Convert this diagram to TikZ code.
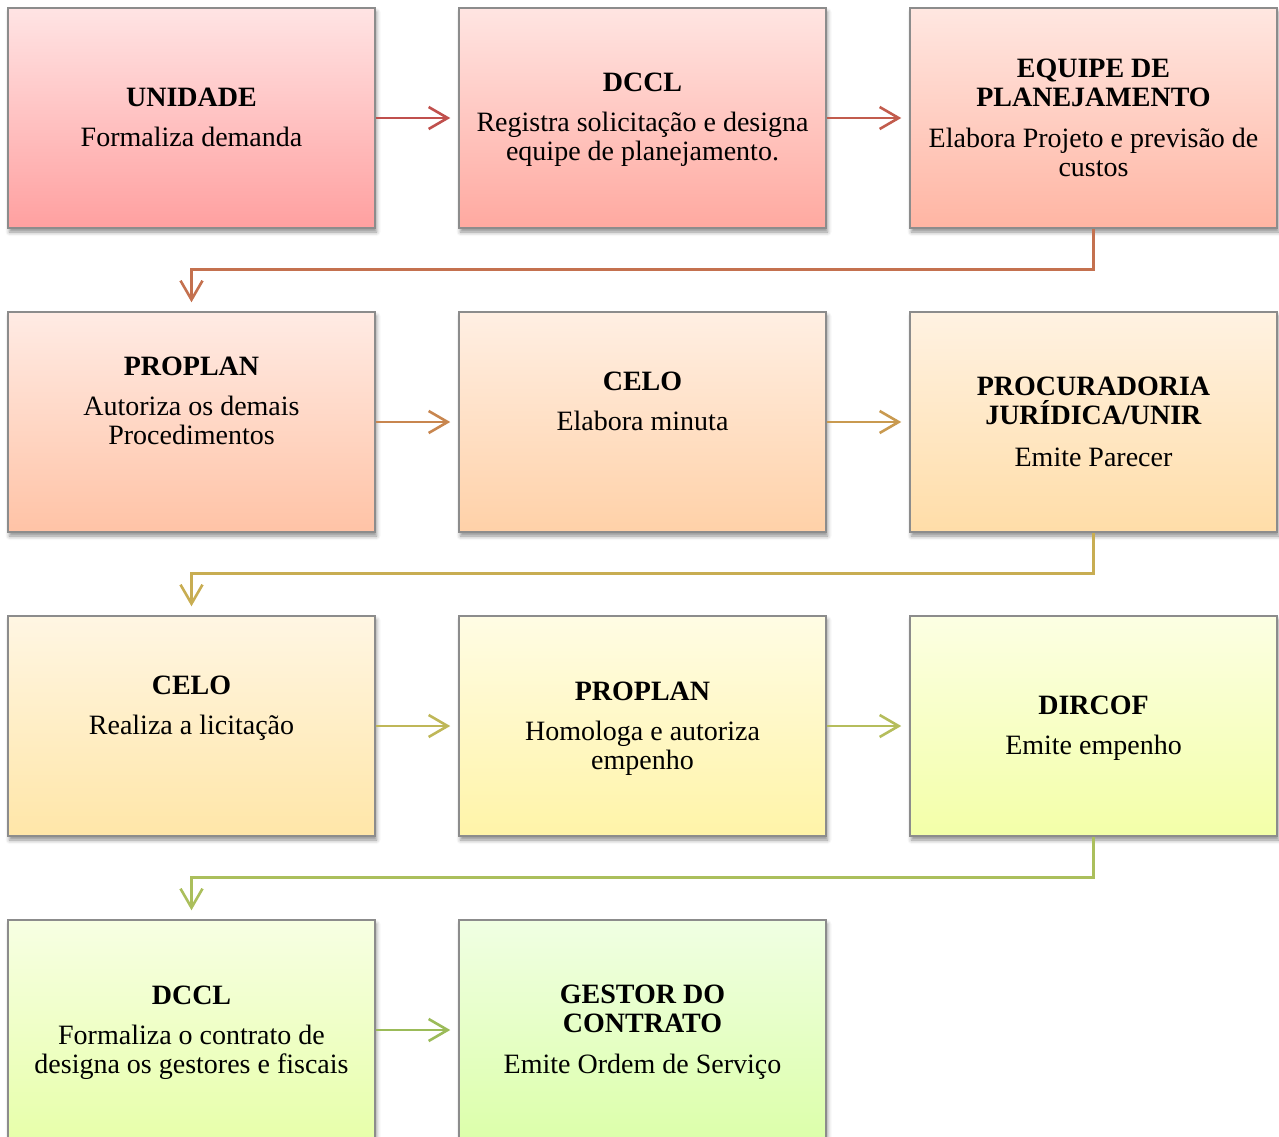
\documentclass[tikz,border=0pt]{standalone}
\usepackage{fontspec}
\setmainfont{Liberation Serif}
\usetikzlibrary{arrows.meta,shadows.blur}

% box fills: top / bottom of each vertical gradient
\definecolor{t1}{HTML}{FFE4E4}\definecolor{d1}{HTML}{FFA0A0}
\definecolor{t2}{HTML}{FFE5E2}\definecolor{d2}{HTML}{FFA9A0}
\definecolor{t3}{HTML}{FFE7E1}\definecolor{d3}{HTML}{FFB5A3}
\definecolor{t4}{HTML}{FFEBE4}\definecolor{d4}{HTML}{FFC3A6}
\definecolor{t5}{HTML}{FFEFE3}\definecolor{d5}{HTML}{FFD1A8}
\definecolor{t6}{HTML}{FFF2E2}\definecolor{d6}{HTML}{FFDDA8}
\definecolor{t7}{HTML}{FFF6E3}\definecolor{d7}{HTML}{FFE6A8}
\definecolor{t8}{HTML}{FFFCE4}\definecolor{d8}{HTML}{FFF4A8}
\definecolor{t9}{HTML}{FCFFE3}\definecolor{d9}{HTML}{F3FFA8}
\definecolor{t10}{HTML}{F7FFE3}\definecolor{d10}{HTML}{E7FFAA}
\definecolor{t11}{HTML}{F0FFE3}\definecolor{d11}{HTML}{DCFFAA}
% connector colours, red to green
\definecolor{c1}{HTML}{C0504D}
\definecolor{c2}{HTML}{C25C4D}
\definecolor{c3}{HTML}{C4714F}
\definecolor{c4}{HTML}{C8864F}
\definecolor{c5}{HTML}{C99A50}
\definecolor{c6}{HTML}{C8AD52}
\definecolor{c7}{HTML}{BFB758}
\definecolor{c8}{HTML}{B5BD5C}
\definecolor{c9}{HTML}{ABBF5C}
\definecolor{c10}{HTML}{9BBB59}
\definecolor{boxline}{HTML}{8C8C8C}

\begin{document}
\begin{tikzpicture}[x=1pt,y=-1pt,
  stepbox/.style={draw=boxline, line width=1.5pt,
    minimum width=367pt, minimum height=220pt, inner sep=0pt,
    top color=t#1, bottom color=d#1,
    blur shadow={shadow xshift=1.5pt, shadow yshift=-4pt,
      shadow blur radius=4pt, shadow opacity=45}},
  steptext/.style={align=center, inner sep=0pt,
    font=\fontsize{28}{29}\selectfont},
  flow/.style={draw=#1, line width=2.6pt,
    -{Straight Barb[length=19pt,width=22pt,line width=2.6pt]},
    shorten >=8pt}
]
\useasboundingbox (0,0) rectangle (1279,1137);
\clip (0,0) rectangle (1279,1137);

% boxes
\node[stepbox=1]  (b1)  at (191.5,118)  {};
\node[stepbox=2]  (b2)  at (642.5,118)  {};
\node[stepbox=3]  (b3)  at (1093.5,118) {};
\node[stepbox=4]  (b4)  at (191.5,422)  {};
\node[stepbox=5]  (b5)  at (642.5,422)  {};
\node[stepbox=6]  (b6)  at (1093.5,422) {};
\node[stepbox=7]  (b7)  at (191.5,726)  {};
\node[stepbox=8]  (b8)  at (642.5,726)  {};
\node[stepbox=9]  (b9)  at (1093.5,726) {};
\node[stepbox=10] (b10) at (191.5,1030) {};
\node[stepbox=11] (b11) at (642.5,1030) {};

% texts
\node[steptext] (b1t)  at ([yshift=1pt]b1.center)    {\textbf{UNIDADE}\\[11pt]Formaliza demanda};
\node[steptext] (b2t)  at ([yshift=-1.5pt]b2.center) {\textbf{DCCL}\\[11pt]Registra solicitação e designa\\equipe de planejamento.};
\node[steptext] (b3t)  at ([yshift=0.5pt]b3.center)  {\textbf{EQUIPE DE}\\\textbf{PLANEJAMENTO}\\[12pt]Elabora Projeto e previsão de\\custos};
\node[steptext] (b4t)  at ([yshift=21pt]b4.center)   {\textbf{PROPLAN}\\[11pt]Autoriza os demais\\Procedimentos};
\node[steptext] (b5t)  at ([yshift=21pt]b5.center)   {\textbf{CELO}\\[11pt]Elabora minuta};
\node[steptext] (b6t)  at (b6.center)                {\textbf{PROCURADORIA}\\\textbf{JURÍDICA/UNIR}\\[13pt]Emite Parecer};
\node[steptext] (b7t)  at ([yshift=18pt]b7.center)   {\textbf{CELO}\\[11pt]Realiza a licitação};
\node[steptext] (b8t)  at ([yshift=-3pt]b8.center)   {\textbf{PROPLAN}\\[11pt]Homologa e autoriza\\empenho};
\node[steptext] (b9t)  at ([yshift=-2pt]b9.center)   {\textbf{DIRCOF}\\[11pt]Emite empenho};
\node[steptext] (b10t) at ([yshift=-3pt]b10.center)  {\textbf{DCCL}\\[11pt]Formaliza o contrato de\\designa os gestores e fiscais};
\node[steptext] (b11t) at ([yshift=-2.5pt]b11.center) {\textbf{GESTOR DO}\\\textbf{CONTRATO}\\[12pt]Emite Ordem de Serviço};

% connectors
\draw[flow=c1] (b1.east) -- (b2.west);
\draw[flow=c2] (b2.east) -- (b3.west);
\draw[flow=c3, shorten >=9pt] (b3.south) -- ++(0,41) -| (b4.north);
\draw[flow=c4] (b4.east) -- (b5.west);
\draw[flow=c5] (b5.east) -- (b6.west);
\draw[flow=c6, shorten >=9pt] (b6.south) -- ++(0,41) -| (b7.north);
\draw[flow=c7] (b7.east) -- (b8.west);
\draw[flow=c8] (b8.east) -- (b9.west);
\draw[flow=c9, shorten >=9pt] (b9.south) -- ++(0,41) -| (b10.north);
\draw[flow=c10] (b10.east) -- (b11.west);
\end{tikzpicture}
\end{document}
